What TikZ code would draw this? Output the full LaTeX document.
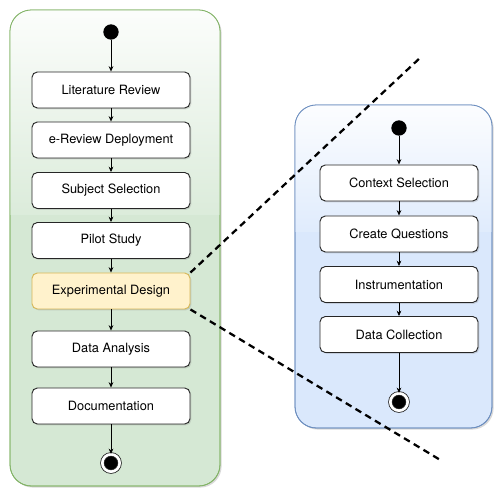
\documentclass[tikz,border=0pt]{standalone}
\usepackage{fontspec}
\setmainfont{TeX Gyre Heros}
\usetikzlibrary{arrows.meta}
\usetikzlibrary{shadows}

\definecolor{greenfill}{HTML}{D5E8D4}
\definecolor{greenline}{HTML}{82B366}
\definecolor{bluefill}{HTML}{DAE8FC}
\definecolor{blueline}{HTML}{6C8EBF}
\definecolor{yellowfill}{HTML}{FFF2CC}
\definecolor{yellowline}{HTML}{D6B656}

\tikzset{
    activity/.style={rectangle, rounded corners=4pt, draw=black!85, line width=0.7pt,
        fill=white, minimum width=118.5pt, minimum height=27pt, inner sep=0pt,
        font=\fontsize{9.6}{11}\selectfont,
        drop shadow={opacity=0.25, shadow xshift=1pt, shadow yshift=-1pt}},
    initial/.style={circle, fill=black, minimum size=11.5pt, inner sep=0pt},
    final/.style={circle, fill=black, draw=black!85, double=white, double distance=2pt,
        line width=0.6pt, minimum size=13pt, inner sep=0pt},
    flow/.style={-{Stealth[length=4pt, width=3.5pt]}, line width=0.5pt},
    zoomline/.style={line width=1.7pt, dash pattern=on 5pt off 3.5pt},
    panel/.style={rounded corners=16pt, line width=0.6pt,
        drop shadow={opacity=0.3, shadow xshift=1.2pt, shadow yshift=-1.2pt}}
}

\begin{document}
\begin{tikzpicture}[x=0.75pt, y=-0.75pt]
    \useasboundingbox (0,0) rectangle (497,488);

    % Containers
    \draw[panel, draw=greenline, fill=greenfill] (10,10) rectangle (220,486);
    \begin{scope}
        \clip[rounded corners=16pt] (10,10) rectangle (220,486);
        \shade[top color=white!92!greenfill, bottom color=white!15!greenfill] (10,10) rectangle (220,215);
    \end{scope}
    \draw[rounded corners=16pt, draw=greenline, line width=0.6pt] (10,10) rectangle (220,486);

    \draw[panel, draw=blueline, fill=bluefill] (295,105) rectangle (492,428);
    \begin{scope}
        \clip[rounded corners=16pt] (295,105) rectangle (492,428);
        \shade[top color=white!92!bluefill, bottom color=white!15!bluefill] (295,105) rectangle (492,232);
    \end{scope}
    \draw[rounded corners=16pt, draw=blueline, line width=0.6pt] (295,105) rectangle (492,428);

    % Nodes
    \node[initial] (start) at (111,32) {};
    \node[activity] (lit) at (111,90) {Literature Review};
    \node[activity] (erev) at (111,140) {e-Review Deployment};
    \node[activity] (subj) at (111,190.5) {Subject Selection};
    \node[activity] (pilot) at (111,240.5) {Pilot Study};
    \node[activity, fill=yellowfill, draw=yellowline] (exp) at (111,291) {Experimental Design};
    \node[activity] (ana) at (111,349) {Data Analysis};
    \node[activity] (doc) at (111,406) {Documentation};
    \node[final] (stop) at (111,463) {};

    \node[initial] (sstart) at (399,128) {};
    \node[activity] (ctx) at (399,183) {Context Selection};
    \node[activity] (ques) at (399,234) {Create Questions};
    \node[activity] (instr) at (399,284.5) {Instrumentation};
    \node[activity] (coll) at (399,334.5) {Data Collection};
    \node[final] (sstop) at (399,402) {};

    \coordinate (zoomtop) at (421,57);
    \coordinate (zoombot) at (442,461);

    % Edges
    \draw[flow] (start) -- (lit);
    \draw[flow] (lit) -- (erev);
    \draw[flow] (erev) -- (subj);
    \draw[flow] (subj) -- (pilot);
    \draw[flow] (pilot) -- (exp);
    \draw[flow] (exp) -- (ana);
    \draw[flow] (ana) -- (doc);
    \draw[flow] (doc) -- (stop);

    \draw[flow] (sstart) -- (ctx);
    \draw[flow] (ctx) -- (ques);
    \draw[flow] (ques) -- (instr);
    \draw[flow] (instr) -- (coll);
    \draw[flow] (coll) -- (sstop);

    \draw[zoomline] (exp.north east) -- (zoomtop);
    \draw[zoomline] (exp.south east) -- (zoombot);
\end{tikzpicture}
\end{document}
